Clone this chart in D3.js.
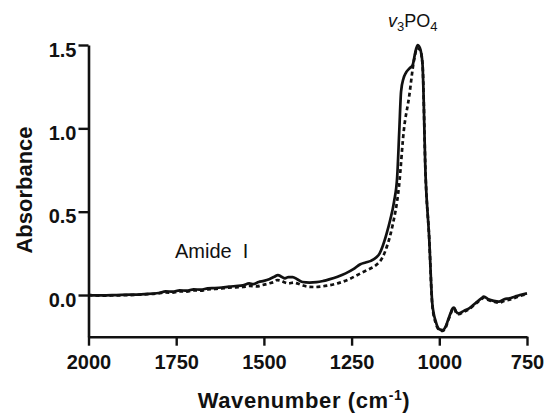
<!DOCTYPE html>
<html>
<head>
<meta charset="utf-8">
<script src="https://cdn.jsdelivr.net/npm/d3@7/dist/d3.min.js"></script>
<style>
  html, body { margin: 0; padding: 0; background: #fff; }
  svg { display: block; font-family: "Liberation Sans", Arial, Helvetica, sans-serif; }
</style>
</head>
<body>
<svg id="chart" width="547" height="414"></svg>
<script>
// ---- data ----
const xTicks = [2000, 1750, 1500, 1250, 1000, 750];
const yTicks = [0.0, 0.5, 1.0, 1.5];

const solidSeries = [
  [2000,0.0],[1960,-0.002],[1920,0.0],[1880,0.002],[1840,0.006],[1800,0.012],[1780,0.022],
  [1760,0.02],[1740,0.028],[1720,0.026],[1700,0.034],[1680,0.032],[1660,0.04],[1640,0.042],
  [1620,0.045],[1600,0.05],[1580,0.054],[1560,0.058],[1542,0.07],[1530,0.066],[1515,0.078],
  [1500,0.085],[1485,0.095],[1470,0.11],[1460,0.12],[1450,0.11],[1440,0.10],[1430,0.108],
  [1418,0.108],[1405,0.095],[1390,0.078],[1370,0.075],[1350,0.077],[1330,0.085],[1314,0.094],
  [1290,0.11],[1267,0.13],[1245,0.155],[1225,0.185],[1210,0.195],[1195,0.205],[1180,0.225],
  [1170,0.25],[1162,0.29],[1150,0.37],[1140,0.45],[1129,0.56],[1120,0.71],[1114,0.99],
  [1109,1.22],[1102,1.30],[1096,1.33],[1085,1.36],[1076,1.38],[1069,1.45],[1062,1.50],
  [1055,1.48],[1048,1.39],[1039,0.71],[1029,0.35],[1020,-0.05],[1010,-0.16],[1000,-0.205],
  [990,-0.21],[982,-0.19],[975,-0.15],[968,-0.11],[962,-0.08],[958,-0.075],[952,-0.1],
  [945,-0.11],[930,-0.095],[915,-0.08],[895,-0.045],[880,-0.02],[873,-0.01],[860,-0.025],
  [845,-0.035],[830,-0.04],[815,-0.025],[800,-0.02],[785,-0.01],[770,0.0],[750,0.01]
];

const dashedSeries = [
  [2000,0.0],[1960,-0.004],[1920,-0.002],[1880,0.0],[1840,0.004],[1800,0.01],[1780,0.016],
  [1760,0.014],[1740,0.022],[1720,0.02],[1700,0.028],[1680,0.026],[1660,0.034],[1640,0.036],
  [1620,0.04],[1600,0.044],[1580,0.046],[1560,0.048],[1540,0.055],[1520,0.052],[1504,0.06],
  [1485,0.07],[1470,0.08],[1462,0.09],[1450,0.085],[1440,0.075],[1430,0.07],[1415,0.075],
  [1405,0.07],[1390,0.058],[1375,0.05],[1355,0.048],[1340,0.05],[1320,0.056],[1290,0.07],
  [1257,0.095],[1238,0.115],[1220,0.135],[1200,0.155],[1180,0.18],[1162,0.225],[1148,0.30],
  [1134,0.41],[1115,0.65],[1101,0.99],[1086,1.19],[1072,1.41],[1063,1.48],[1055,1.47],
  [1048,1.39],[1039,0.71],[1029,0.35],[1020,-0.06],[1010,-0.17],[1000,-0.21],[990,-0.215],
  [982,-0.195],[975,-0.155],[968,-0.115],[962,-0.085],[958,-0.08],[952,-0.105],[945,-0.115],
  [930,-0.1],[915,-0.085],[895,-0.05],[880,-0.025],[873,-0.015],[860,-0.03],[845,-0.04],
  [830,-0.047],[815,-0.035],[800,-0.028],[785,-0.018],[770,-0.006],[750,0.005]
];

// ---- layout ----
const svg = d3.select("#chart");
const x = d3.scaleLinear().domain([2000, 750]).range([88.5, 527]);
const y = d3.scaleLinear().domain([-0.25, 1.5]).range([336.7, 45]);

const line = d3.line().x(d => x(d[0])).y(d => y(d[1])).curve(d3.curveMonotoneX);

svg.append("path").datum(dashedSeries)
  .attr("d", line).attr("fill", "none").attr("stroke", "#111")
  .attr("stroke-width", 2.7).attr("stroke-dasharray", "4,3");

svg.append("path").datum(solidSeries)
  .attr("d", line).attr("fill", "none").attr("stroke", "#111")
  .attr("stroke-width", 2.7).attr("stroke-linejoin", "round");

// axes
const xAxis = d3.axisBottom(x).tickValues(xTicks).tickSize(9).tickSizeOuter(0).tickPadding(9)
  .tickFormat(d3.format("d"));
const yAxis = d3.axisLeft(y).tickValues(yTicks).tickSize(10).tickSizeOuter(0).tickPadding(2)
  .tickFormat(d3.format(".1f"));

const gx = svg.append("g").attr("transform", `translate(0,${y(-0.25)})`).call(xAxis);
const gy = svg.append("g").attr("transform", `translate(${x(2000)},0)`).call(yAxis);

[gx, gy].forEach(g => {
  g.selectAll(".domain").attr("stroke", "#111").attr("stroke-width", 2.6);
  g.selectAll(".tick line").attr("stroke", "#111").attr("stroke-width", 2.4);
  g.selectAll(".tick text").attr("fill", "#111")
    .style("font-size", "20px").style("font-weight", "bold")
    .style("font-family", '"Liberation Sans", Arial, sans-serif');
});
gy.selectAll(".tick text").attr("dy", "0.55em");

// axis titles
svg.append("text")
  .attr("x", 304).attr("y", 408)
  .attr("text-anchor", "middle")
  .style("font-size", "22px").style("font-weight", "bold").style("letter-spacing", "0.6px")
  .attr("fill", "#111")
  .html('Wavenumber (cm<tspan dy="-8" font-size="14px">-1</tspan><tspan dy="8">)</tspan>');

svg.append("text")
  .attr("transform", "translate(32,190) rotate(-90)")
  .attr("text-anchor", "middle")
  .style("font-size", "22px").style("font-weight", "bold").attr("fill", "#111")
  .text("Absorbance");

// annotations
const ann = svg.append("text")
  .attr("x", 388).attr("y", 27)
  .style("font-size", "18px").attr("fill", "#111");
ann.append("tspan").style("font-style", "italic").text("v");
ann.append("tspan").attr("dy", 4).style("font-size", "13px").text("3");
ann.append("tspan").attr("dy", -4).text("PO");
ann.append("tspan").attr("dy", 4).style("font-size", "13px").text("4");

svg.append("text")
  .attr("x", 175).attr("y", 258)
  .style("font-size", "20px").attr("fill", "#111")
  .attr("xml:space", "preserve")
  .text("Amide  I");
</script>
</body>
</html>
